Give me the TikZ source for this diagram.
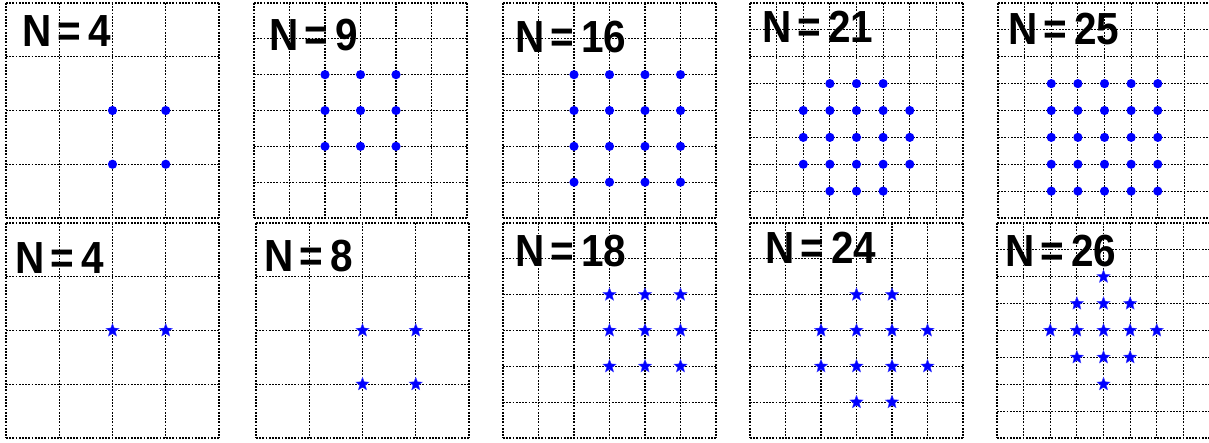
\documentclass[tikz,border=0pt]{standalone}
\usepackage{fontspec}
\setmainfont{Liberation Sans}
\usetikzlibrary{shapes.geometric}

% one dotted square grid of n x n cells, top-left corner at (#1,#2)
\newcommand{\cellgrid}[3]{%
  \pgfmathsetmacro{\cw}{213/#3}%
  \pgfmathsetmacro{\ch}{215/#3}%
  \begin{scope}[shift={(#1,#2)},x=\cw pt,y=-\ch pt]
    \foreach \k in {0,...,#3}{
      \draw[gridline] (\k,0) -- (\k,#3);
      \draw[gridline] (0,\k) -- (#3,\k);
    }
  \end{scope}}

\begin{document}
\begin{tikzpicture}[x=1pt,y=-1pt,
    gridline/.style={line width=1.1pt,dash pattern=on 1.8pt off 1.4pt},
    dot/.style={fill=blue},
    starmark/.style={star,star points=5,star point ratio=2.3,fill=blue,
      draw=blue!70!white,line width=0.3pt,minimum size=14pt,inner sep=0pt},
    lab/.style={anchor=base west,inner sep=0pt,xscale=0.9,
      font=\fontsize{45}{50}\selectfont\bfseries}]
  \useasboundingbox (0,0) rectangle (1209,443);

  % top row: filled dots
  \cellgrid{6}{3}{4}
  \cellgrid{254}{3}{6}
  \cellgrid{503}{3}{6}
  \cellgrid{750}{3}{8}
  \cellgrid{998}{3}{8}
  \foreach \x/\y/\n/\pts in {6/3/4/{2/2,3/2,2/3,3/3},
      254/3/6/{2/2,3/2,4/2,2/3,3/3,4/3,2/4,3/4,4/4},
      503/3/6/{2/2,3/2,4/2,5/2,2/3,3/3,4/3,5/3,2/4,3/4,4/4,5/4,2/5,3/5,4/5,5/5},
      750/3/8/{3/3,4/3,5/3,2/4,3/4,4/4,5/4,6/4,2/5,3/5,4/5,5/5,6/5,2/6,3/6,4/6,5/6,6/6,3/7,4/7,5/7},
      998/3/8/{2/3,3/3,4/3,5/3,6/3,2/4,3/4,4/4,5/4,6/4,2/5,3/5,4/5,5/5,6/5,2/6,3/6,4/6,5/6,6/6,2/7,3/7,4/7,5/7,6/7}}{
    \foreach \i/\j in \pts{
      \fill[dot] ({\x+\i*213/\n},{\y+\j*215/\n}) circle[radius=4.6pt];
    }
  }

  % bottom row: stars
  \cellgrid{6}{223}{4}
  \cellgrid{256}{223}{4}
  \cellgrid{503}{223}{6}
  \cellgrid{750}{223}{6}
  \cellgrid{997}{223}{8}
  \foreach \x/\y/\n/\pts in {6/223/4/{2/2,3/2},
      256/223/4/{2/2,3/2,2/3,3/3},
      503/223/6/{3/2,4/2,5/2,3/3,4/3,5/3,3/4,4/4,5/4},
      750/223/6/{3/2,4/2,2/3,3/3,4/3,5/3,2/4,3/4,4/4,5/4,3/5,4/5},
      997/223/8/{4/2,3/3,4/3,5/3,2/4,3/4,4/4,5/4,6/4,3/5,4/5,5/5,4/6}}{
    \foreach \i/\j in \pts{
      \node[starmark] at ({\x+\i*213/\n},{\y+\j*215/\n}) {};
    }
  }

  % panel titles
  \node[lab] (t1) at (22,47) {N\kern0.16em=\kern0.16em4};
  \node[lab] (t2) at (269,51) {N\kern0.16em=\kern0.16em9};
  \node[lab] (t3) at (515,53) {N\kern0.16em=\kern0.16em16};
  \node[lab] (t4) at (762,43) {N\kern0.16em=\kern0.16em21};
  \node[lab] (t5) at (1008,45) {N\kern0.16em=\kern0.16em25};
  \node[lab] (b1) at (15,274) {N\kern0.16em=\kern0.16em4};
  \node[lab] (b2) at (264,272) {N\kern0.16em=\kern0.16em8};
  \node[lab] (b3) at (515,267) {N\kern0.16em=\kern0.16em18};
  \node[lab] (b4) at (765,264) {N\kern0.16em=\kern0.16em24};
  \node[lab] (b5) at (1005,267) {N\kern0.16em=\kern0.16em26};
\end{tikzpicture}
\end{document}
